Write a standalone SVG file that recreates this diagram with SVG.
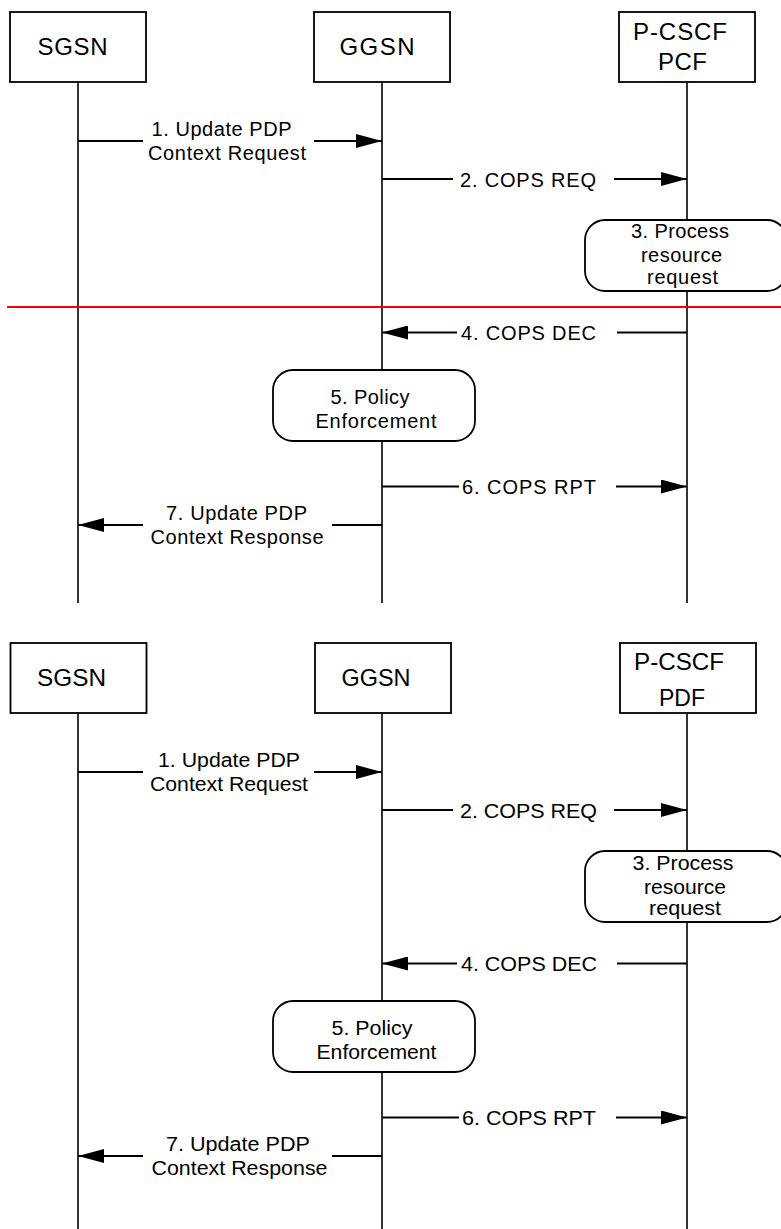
<svg xmlns="http://www.w3.org/2000/svg" width="781" height="1229" viewBox="0 0 781 1229">
  <style>
    .box{fill:#fff;stroke:#000;stroke-width:1.8}
    .step{fill:#fff;stroke:#000;stroke-width:1.8}
    .life{stroke:#000;stroke-width:1.6;fill:none}
    .msg{stroke:#000;stroke-width:1.8;fill:none}
    .arr{marker-end:url(#head)}
    .sep{stroke:#ff0000;stroke-width:2}
    text{font-family:"Liberation Sans",Arial,Helvetica,sans-serif;fill:#000;text-anchor:middle}
    .node{font-size:24px}
    .lbl{font-size:20px}
  </style>
  <defs>
    <marker id="head" markerUnits="userSpaceOnUse" viewBox="0 0 26 14" markerWidth="26" markerHeight="14" refX="26" refY="7" orient="auto">
      <path d="M0,0 L26,7 L0,14 Z" fill="#000"/>
    </marker>
  </defs>

  <!-- ===== Upper flow: P-CSCF / PCF ===== -->
  <g id="upper">
    <g id="lifelines-upper" class="connectors">
      <line class="life" x1="78" y1="82" x2="78" y2="603"/>
      <line class="life" x1="382" y1="82" x2="382" y2="603"/>
      <line class="life" x1="687" y1="82" x2="687" y2="603"/>
    </g>

    <g id="u-sgsn">
      <rect class="box" x="10" y="12" width="136" height="70"/>
      <text class="node" x="72.5" y="55" textLength="70" lengthAdjust="spacing">SGSN</text>
    </g>
    <g id="u-ggsn">
      <rect class="box" x="314" y="12" width="136" height="70"/>
      <text class="node" x="377" y="55" textLength="75" lengthAdjust="spacing">GGSN</text>
    </g>
    <g id="u-pcscf">
      <rect class="box" x="619" y="12" width="136" height="70"/>
      <text class="node" x="680" y="40" textLength="94" lengthAdjust="spacing">P-CSCF</text>
      <text class="node" x="682.5" y="70" textLength="49" lengthAdjust="spacing">PCF</text>
    </g>
    <g id="u-process">
      <rect class="step" x="585" y="220" width="202" height="71" rx="20" ry="20"/>
      <text class="lbl" x="680" y="238" textLength="98" lengthAdjust="spacing">3. Process</text>
      <text class="lbl" x="681.5" y="261.5" textLength="81" lengthAdjust="spacing">resource</text>
      <text class="lbl" x="682.5" y="284" textLength="71" lengthAdjust="spacing">request</text>
    </g>
    <g id="u-policy">
      <rect class="step" x="273" y="370" width="202" height="71" rx="20" ry="20"/>
      <text class="lbl" x="370" y="404" textLength="79" lengthAdjust="spacing">5. Policy</text>
      <text class="lbl" x="376" y="428" textLength="121" lengthAdjust="spacing">Enforcement</text>
    </g>

    <g id="messages-upper" class="connectors">
      <line class="msg" x1="78" y1="141" x2="143" y2="141"/>
      <line class="msg arr" x1="314" y1="141" x2="382" y2="141"/>
      <text class="lbl" x="221.5" y="136" textLength="140" lengthAdjust="spacing">1. Update PDP</text>
      <text class="lbl" x="227" y="160" textLength="158" lengthAdjust="spacing">Context Request</text>

      <line class="msg" x1="382" y1="179" x2="453" y2="179"/>
      <line class="msg arr" x1="614" y1="179" x2="687" y2="179"/>
      <text class="lbl" x="528" y="186.5" textLength="136" lengthAdjust="spacing">2. COPS REQ</text>

      <line class="msg" x1="687" y1="332.5" x2="617" y2="332.5"/>
      <line class="msg arr" x1="457" y1="332.5" x2="382" y2="332.5"/>
      <text class="lbl" x="528.5" y="339.5" textLength="135" lengthAdjust="spacing">4. COPS DEC</text>

      <line class="msg" x1="382" y1="486.5" x2="459" y2="486.5"/>
      <line class="msg arr" x1="616" y1="486.5" x2="687" y2="486.5"/>
      <text class="lbl" x="529" y="494" textLength="134" lengthAdjust="spacing">6. COPS RPT</text>

      <line class="msg" x1="382" y1="525" x2="332" y2="525"/>
      <line class="msg arr" x1="143" y1="525" x2="78" y2="525"/>
      <text class="lbl" x="236.5" y="519.5" textLength="141" lengthAdjust="spacing">7. Update PDP</text>
      <text class="lbl" x="237" y="544" textLength="173" lengthAdjust="spacing">Context Response</text>
    </g>

    <!-- separator between resource request and decision -->
    <line class="sep" x1="7" y1="307" x2="781" y2="307"/>
  </g>

  <!-- ===== Lower flow: P-CSCF / PDF ===== -->
  <g id="lower" transform="translate(0,631)">
    <g id="lifelines-lower" class="connectors">
      <line class="life" x1="78" y1="82" x2="78" y2="600"/>
      <line class="life" x1="382" y1="82" x2="382" y2="600"/>
      <line class="life" x1="687" y1="82" x2="687" y2="600"/>
    </g>

    <g id="l-sgsn">
      <rect class="box" x="10.5" y="12" width="136" height="70"/>
      <text class="node" x="71.5" y="55" textLength="69" lengthAdjust="spacingAndGlyphs">SGSN</text>
    </g>
    <g id="l-ggsn">
      <rect class="box" x="315" y="12" width="136" height="70"/>
      <text class="node" x="376" y="55" textLength="69" lengthAdjust="spacingAndGlyphs">GGSN</text>
    </g>
    <g id="l-pcscf">
      <rect class="box" x="620" y="12" width="136" height="70"/>
      <text class="node" x="679" y="39" textLength="90" lengthAdjust="spacingAndGlyphs">P-CSCF</text>
      <text class="node" x="682" y="75" textLength="46" lengthAdjust="spacingAndGlyphs">PDF</text>
    </g>
    <g id="l-process">
      <rect class="step" x="585" y="220" width="202" height="71" rx="20" ry="20"/>
      <text class="lbl" x="683" y="239" textLength="101" lengthAdjust="spacingAndGlyphs">3. Process</text>
      <text class="lbl" x="685" y="262.5" textLength="82" lengthAdjust="spacingAndGlyphs">resource</text>
      <text class="lbl" x="685" y="284" textLength="72" lengthAdjust="spacingAndGlyphs">request</text>
    </g>
    <g id="l-policy">
      <rect class="step" x="273" y="370" width="202" height="71" rx="20" ry="20"/>
      <text class="lbl" x="372" y="404" textLength="81" lengthAdjust="spacingAndGlyphs">5. Policy</text>
      <text class="lbl" x="376.5" y="428" textLength="120" lengthAdjust="spacingAndGlyphs">Enforcement</text>
    </g>

    <g id="messages-lower" class="connectors">
      <line class="msg" x1="78" y1="141" x2="143" y2="141"/>
      <line class="msg arr" x1="314" y1="141" x2="382" y2="141"/>
      <text class="lbl" x="229" y="136" textLength="142" lengthAdjust="spacingAndGlyphs">1. Update PDP</text>
      <text class="lbl" x="229" y="160" textLength="158" lengthAdjust="spacingAndGlyphs">Context Request</text>

      <line class="msg" x1="382" y1="179" x2="453" y2="179"/>
      <line class="msg arr" x1="614" y1="179" x2="687" y2="179"/>
      <text class="lbl" x="528.5" y="186.5" textLength="137" lengthAdjust="spacingAndGlyphs">2. COPS REQ</text>

      <line class="msg" x1="687" y1="332.5" x2="617" y2="332.5"/>
      <line class="msg arr" x1="457" y1="332.5" x2="382" y2="332.5"/>
      <text class="lbl" x="529" y="339.5" textLength="136" lengthAdjust="spacingAndGlyphs">4. COPS DEC</text>

      <line class="msg" x1="382" y1="486.5" x2="459" y2="486.5"/>
      <line class="msg arr" x1="616" y1="486.5" x2="687" y2="486.5"/>
      <text class="lbl" x="529" y="494" textLength="134" lengthAdjust="spacingAndGlyphs">6. COPS RPT</text>

      <line class="msg" x1="382" y1="525" x2="332" y2="525"/>
      <line class="msg arr" x1="143" y1="525" x2="78" y2="525"/>
      <text class="lbl" x="238" y="519.5" textLength="144" lengthAdjust="spacingAndGlyphs">7. Update PDP</text>
      <text class="lbl" x="239.5" y="544" textLength="176" lengthAdjust="spacingAndGlyphs">Context Response</text>
    </g>
  </g>
</svg>
